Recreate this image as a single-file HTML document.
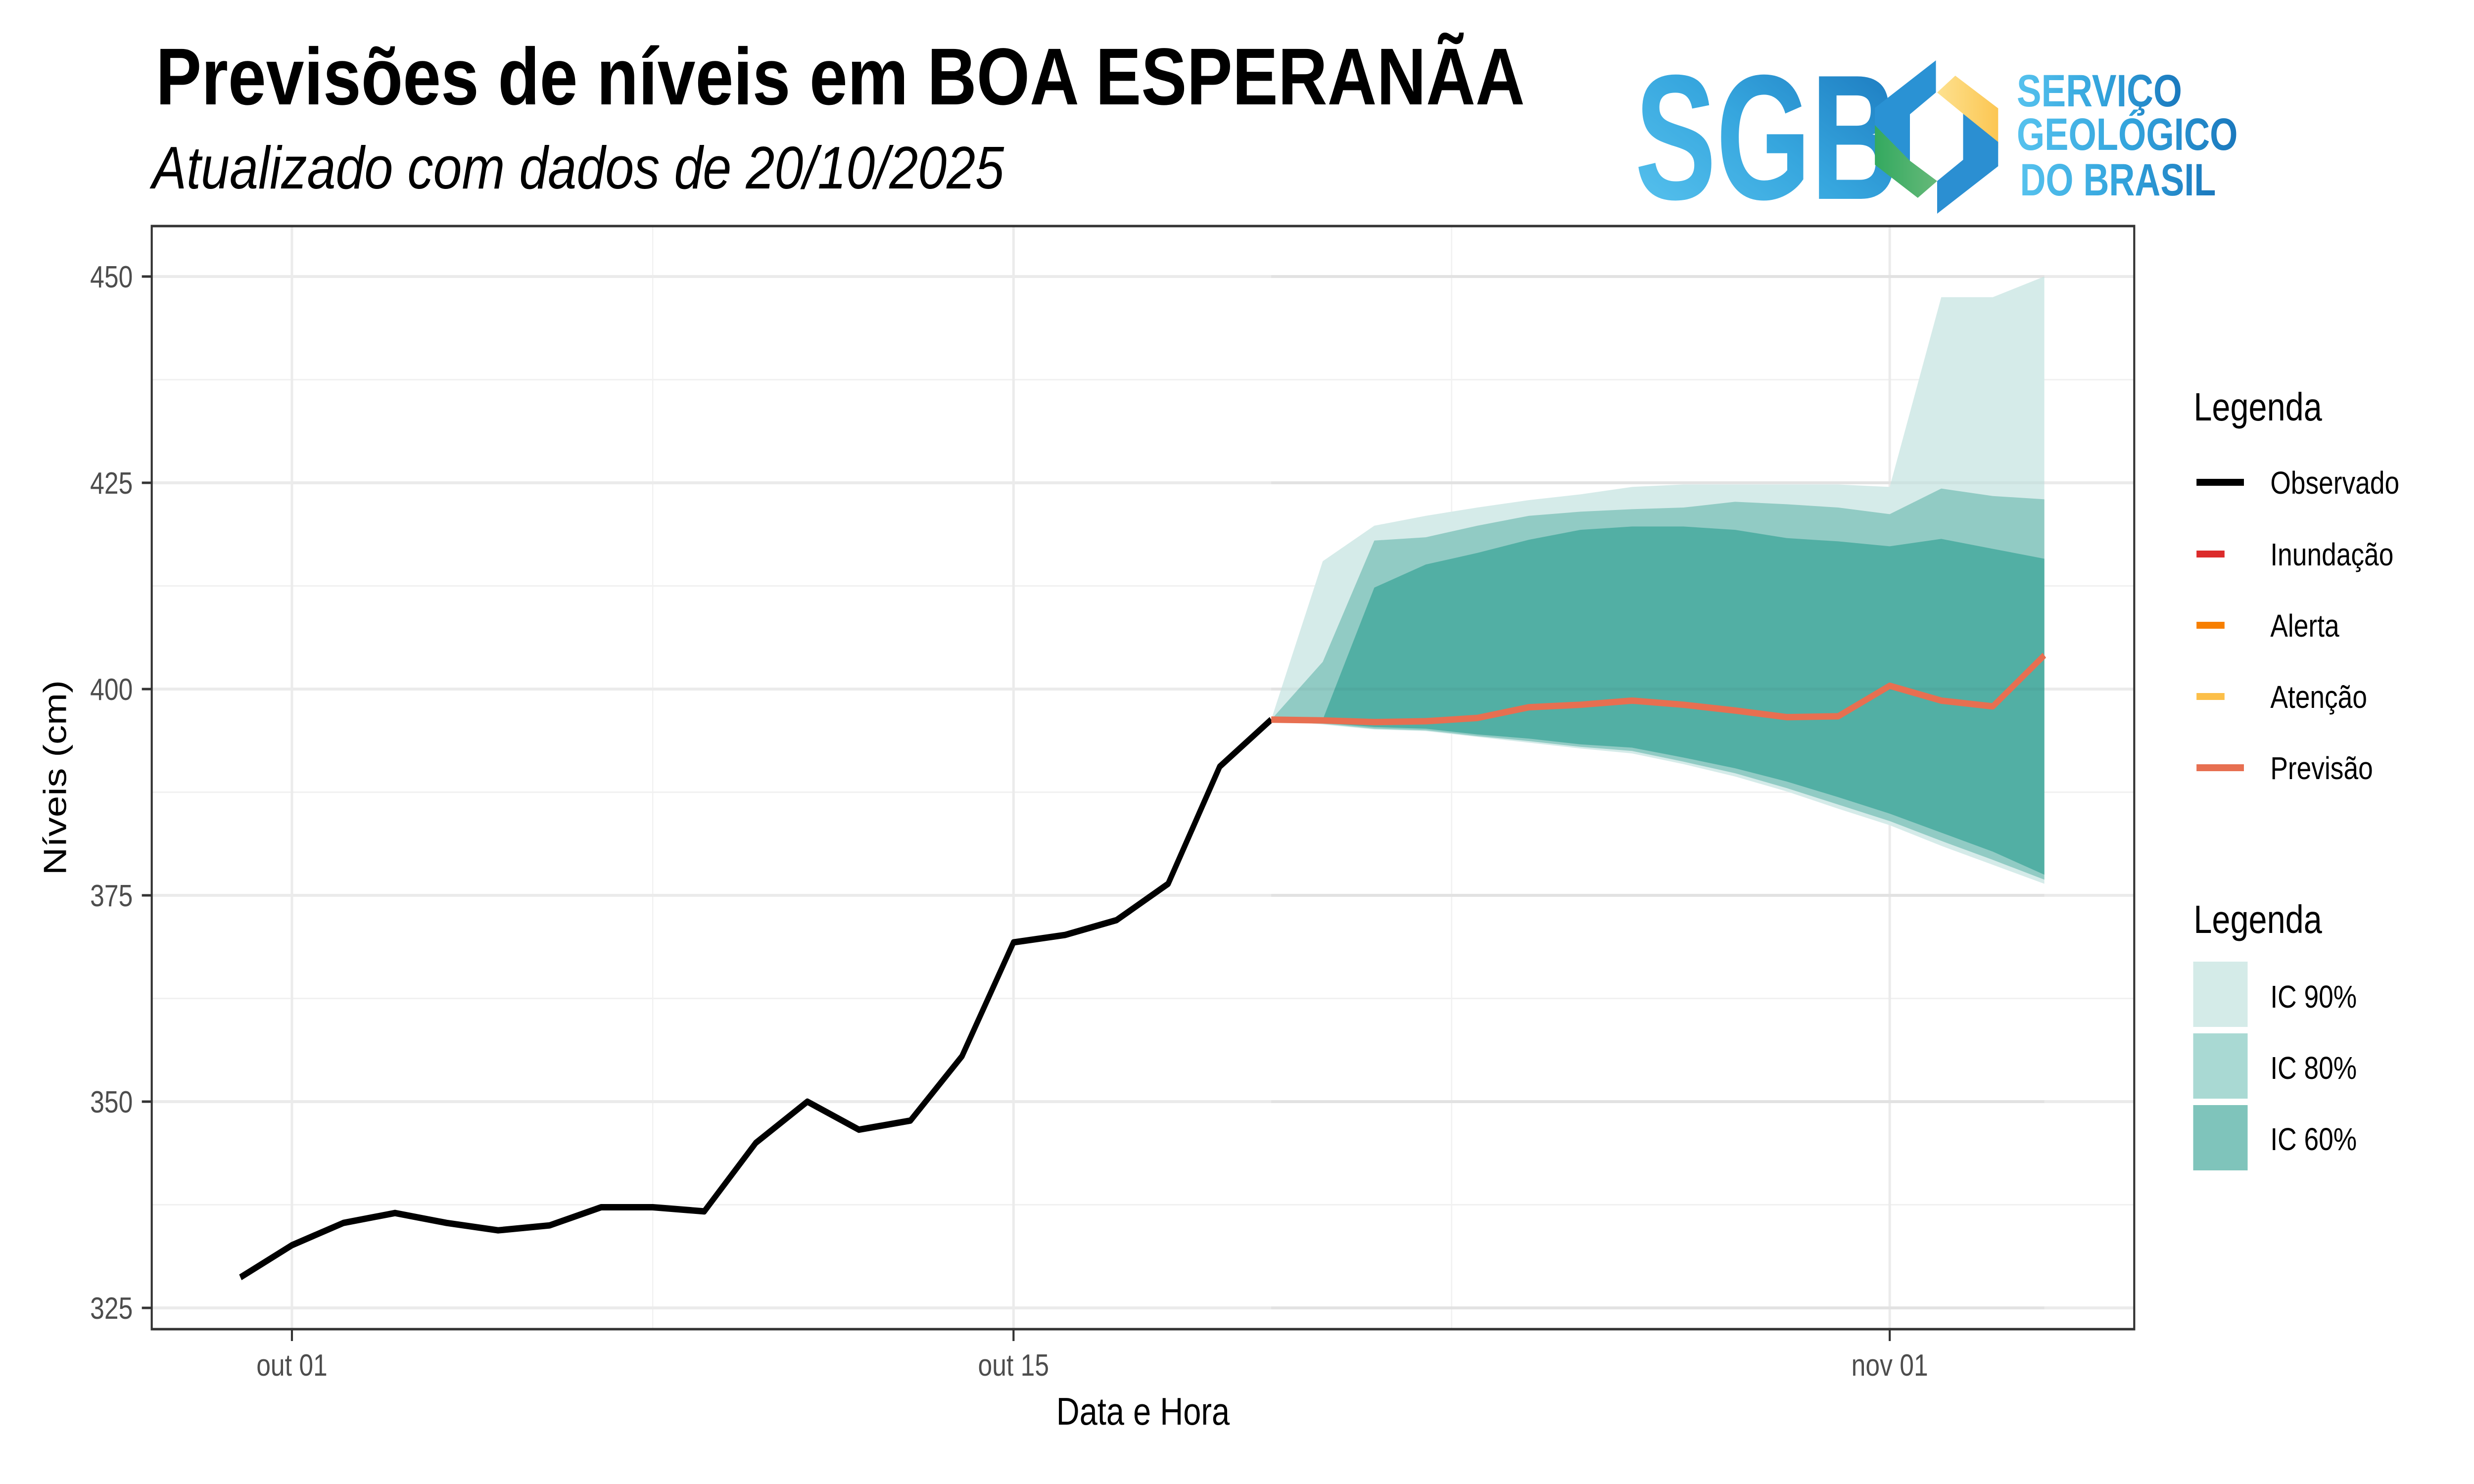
<!DOCTYPE html>
<html><head><meta charset="utf-8">
<style>
html,body{margin:0;padding:0;background:#fff;overflow:hidden;width:100%;height:100%;}
svg{display:block;font-family:"Liberation Sans",Arial,sans-serif;width:100vw;height:100vh;}
</style></head>
<body>
<svg id="chart" viewBox="0 0 6000 3000" preserveAspectRatio="none" xmlns="http://www.w3.org/2000/svg">
<defs>
<linearGradient id="sgbGrad" x1="0" y1="1" x2="1" y2="0">
<stop offset="0" stop-color="#5cc6f0"/><stop offset="0.5" stop-color="#36a6de"/><stop offset="1" stop-color="#1873ba"/>
</linearGradient>
<linearGradient id="txtGrad" x1="0" y1="0" x2="1" y2="0">
<stop offset="0" stop-color="#56c2ee"/><stop offset="0.5" stop-color="#34a5dd"/><stop offset="1" stop-color="#1a78bd"/>
</linearGradient>
<linearGradient id="yelGrad" x1="0" y1="0" x2="1" y2="0">
<stop offset="0" stop-color="#fde18f"/><stop offset="1" stop-color="#fcc652"/>
</linearGradient>
<linearGradient id="grnGrad" x1="0" y1="0" x2="1" y2="0">
<stop offset="0" stop-color="#33a95f"/><stop offset="1" stop-color="#66b979"/>
</linearGradient>
</defs>
<rect x="0" y="0" width="6000" height="3000" fill="#fff"/>

<text x="378" y="211" font-size="163" font-weight="bold" fill="#000" textLength="3320" lengthAdjust="spacingAndGlyphs">Previsões de níveis em BOA ESPERANÃA</text>
<text x="369" y="381" font-size="122" font-style="italic" fill="#000" textLength="2066" lengthAdjust="spacingAndGlyphs">Atualizado com dados de 20/10/2025</text>

<g>
<text x="3965" y="402" font-size="360" font-weight="bold" fill="url(#sgbGrad)" textLength="640" lengthAdjust="spacingAndGlyphs">SGB</text>
<polygon fill="#2a92d4" points="4547,218 4695,122 4695,187 4632,231 4632,325 4547,277"/>
<polygon fill="url(#grnGrad)" points="4547,253 4632,325 4698,366 4651,400 4547,333"/>
<polygon fill="url(#yelGrad)" points="4698,187 4742,153 4846,219 4846,300 4761,230"/>
<polygon fill="#2b8fd2" points="4761,230 4846,287 4846,336 4698,432 4698,366 4761,323"/>
<text x="4891" y="215" font-size="92" font-weight="bold" fill="url(#txtGrad)" textLength="401" lengthAdjust="spacingAndGlyphs">SERVIÇO</text>
<text x="4891" y="303" font-size="92" font-weight="bold" fill="url(#txtGrad)" textLength="536" lengthAdjust="spacingAndGlyphs">GEOLÓGICO</text>
<text x="4899" y="395" font-size="92" font-weight="bold" fill="url(#txtGrad)" textLength="475" lengthAdjust="spacingAndGlyphs">DO BRASIL</text>
</g>

<g id="grid"></g>
<g id="bands"></g>
<g id="lines"></g>
<rect x="368" y="457" width="4808" height="2230" fill="none" stroke="#333" stroke-width="5"/>
<g id="axes"></g>

<text x="2772" y="2880" font-size="78" text-anchor="middle" fill="#000">Data e Hora</text>
<text x="0" y="0" font-size="78" text-anchor="middle" fill="#000" transform="translate(160,1572) rotate(-90)">Níveis (cm)</text>

<g>
<text x="5320" y="850" font-size="80" fill="#000">Legenda</text>
<line x1="5327" y1="975" x2="5442" y2="975" stroke="#000" stroke-width="14"/>
<text x="5506" y="998" font-size="64" fill="#000">Observado</text>
<line x1="5327" y1="1120" x2="5395" y2="1120" stroke="#dc2b2b" stroke-width="14"/>
<text x="5506" y="1143" font-size="64" fill="#000">Inundação</text>
<line x1="5327" y1="1264" x2="5395" y2="1264" stroke="#f77f00" stroke-width="14"/>
<text x="5506" y="1287" font-size="64" fill="#000">Alerta</text>
<line x1="5327" y1="1408" x2="5395" y2="1408" stroke="#fcbf49" stroke-width="14"/>
<text x="5506" y="1431" font-size="64" fill="#000">Atenção</text>
<line x1="5327" y1="1552" x2="5442" y2="1552" stroke="#e76f51" stroke-width="14"/>
<text x="5506" y="1575" font-size="64" fill="#000">Previsão</text>
</g>
<g>
<text x="5320" y="1886" font-size="80" fill="#000">Legenda</text>
<rect x="5319" y="1944" width="132" height="132" fill="#d4ebe8"/>
<text x="5506" y="2037" font-size="64" fill="#000">IC 90%</text>
<rect x="5319" y="2089" width="132" height="132" fill="#a9d9d3"/>
<text x="5506" y="2181" font-size="64" fill="#000">IC 80%</text>
<rect x="5319" y="2234" width="132" height="132" fill="#7fc4bb"/>
<text x="5506" y="2325" font-size="64" fill="#000">IC 60%</text>
</g>
</svg>
<script>
// Data (days relative to Oct 01)
const obsDays = [-1,0,1,2,3,4,5,6,7,8,9,10,11,12,13,14,15,16,17,18,19];
const obsValues = [328.7,332.6,335.3,336.5,335.3,334.4,335.0,337.2,337.2,336.7,345.0,350.0,346.6,347.7,355.5,369.3,370.2,372.0,376.4,390.6,396.3];
const fcDays = [19,20,21,22,23,24,25,26,27,28,29,30,31,32,33,34];
const fcValues = [396.3,396.2,396.0,396.1,396.5,397.8,398.1,398.6,398.1,397.4,396.6,396.7,400.4,398.6,397.9,404.1];
const ic60Upper = [396.3,396.3,412.3,415.1,416.5,418.1,419.3,419.7,419.7,419.3,418.3,417.9,417.3,418.2,417.0,415.8];
const ic60Lower = [396.3,395.9,395.4,395.2,394.5,394.0,393.3,392.9,391.7,390.4,388.8,386.9,384.9,382.6,380.3,377.5];
const ic80Upper = [396.3,403.3,418.0,418.4,419.8,421.0,421.5,421.8,422.0,422.7,422.4,422.0,421.2,424.3,423.4,423.0];
const ic80Lower = [396.3,395.8,395.2,395.0,394.3,393.7,393.0,392.5,391.2,389.8,388.0,386.0,384.0,381.6,379.3,376.9];
const ic90Upper = [396.3,415.5,419.8,421.0,422.0,422.9,423.6,424.5,424.8,424.8,424.8,424.8,424.5,447.5,447.5,450.0];
const ic90Lower = [396.3,395.7,395.1,394.9,394.2,393.5,392.8,392.2,390.9,389.4,387.6,385.5,383.5,381.0,378.7,376.4];
const yTicks = [325,350,375,400,425,450];
const yMinor = [337.5,362.5,387.5,412.5,437.5];
const xTickDays = [0,14,31];
const xTickLabels = ["out 01","out 15","nov 01"];
const xMinorDays = [7,22.5];

const NS = "http://www.w3.org/2000/svg";
const PL = 368, PR = 5176, PT = 457, PB = 2687;
function xs(d){ return 708 + d*125.0; }
function ys(v){ return 559 + (450 - v)*16.68; }
function mk(tag, attrs, parent){ const e = document.createElementNS(NS, tag); for (const k in attrs) e.setAttribute(k, attrs[k]); parent.appendChild(e); return e; }

const grid = document.getElementById('grid');
yMinor.forEach(v => {
  const l = mk('line', {x1:PL, x2:PR, y1:ys(v), y2:ys(v), stroke:'#f1f1f1', 'stroke-width':3}, grid);
  
  
});
xMinorDays.forEach(d => {
  const l = mk('line', {x1:xs(d), x2:xs(d), y1:PT, y2:PB, stroke:'#f1f1f1', 'stroke-width':3}, grid);
  
  
});
yTicks.forEach(v => {
  const l = mk('line', {x1:PL, x2:PR, y1:ys(v), y2:ys(v), stroke:'#ebebeb', 'stroke-width':6}, grid);
  
  
});
xTickDays.forEach(d => {
  const l = mk('line', {x1:xs(d), x2:xs(d), y1:PT, y2:PB, stroke:'#ebebeb', 'stroke-width':6}, grid);
  
  
});

const bands = document.getElementById('bands');
function bandPath(up, lo){
  let d = '';
  fcDays.forEach((day,i) => { d += (i ? 'L' : 'M') + xs(day) + ',' + ys(up[i]); });
  for (let i = fcDays.length-1; i >= 0; i--) d += 'L' + xs(fcDays[i]) + ',' + ys(lo[i]);
  return d + 'Z';
}
const b90 = mk('path', {d:bandPath(ic90Upper, ic90Lower), fill:'#d5ebe9'}, bands);


const b80 = mk('path', {d:bandPath(ic80Upper, ic80Lower), fill:'#91cbc4'}, bands);


const b60 = mk('path', {d:bandPath(ic60Upper, ic60Lower), fill:'#52afa4'}, bands);


yTicks.forEach(v => {
  const l = mk('line', {x1:xs(19), x2:xs(34), y1:ys(v), y2:ys(v), stroke:'rgba(0,0,0,0.035)', 'stroke-width':6}, bands);
  
  
});

const lines = document.getElementById('lines');
const obsPts = obsDays.map((d,i) => xs(d) + ',' + ys(obsValues[i])).join(' ');
const obs = mk('polyline', {points:obsPts, fill:'none', stroke:'#000', 'stroke-width':13, 'stroke-linejoin':'round'}, lines);


const fcPts = fcDays.map((d,i) => xs(d) + ',' + ys(fcValues[i])).join(' ');
const fc = mk('polyline', {points:fcPts, fill:'none', stroke:'#e76f51', 'stroke-width':13, 'stroke-linejoin':'round'}, lines);



const axes = document.getElementById('axes');
yTicks.forEach(v => {
  const t = mk('line', {x1:PL-24, x2:PL, y1:ys(v), y2:ys(v), stroke:'#333', 'stroke-width':5}, axes);
  
  
  const lb = mk('text', {x:322, y:ys(v)+22, 'font-size':62, 'text-anchor':'end', fill:'#4d4d4d'}, axes);
  lb.textContent = String(v);
  
  
});
xTickDays.forEach((d,i) => {
  const t = mk('line', {x1:xs(d), x2:xs(d), y1:PB, y2:PB+24, stroke:'#333', 'stroke-width':5}, axes);
  
  
  const lb = mk('text', {x:xs(d), y:2781, 'font-size':62, 'text-anchor':'middle', fill:'#4d4d4d'}, axes);
  lb.textContent = xTickLabels[i];
  
  
});
</script>
</body></html>
